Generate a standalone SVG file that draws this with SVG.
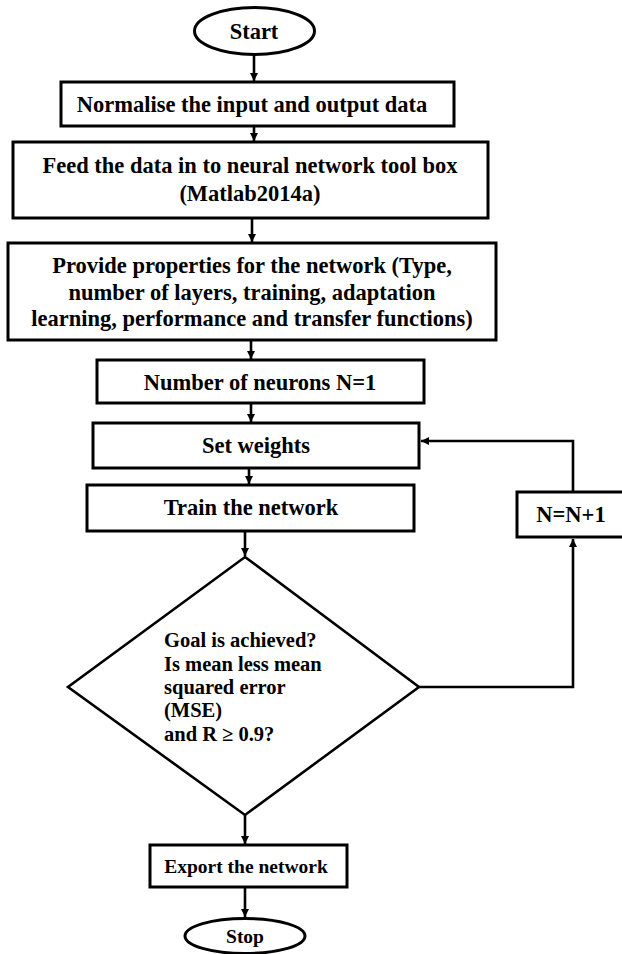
<svg xmlns="http://www.w3.org/2000/svg" width="622" height="954" viewBox="0 0 622 954">
<defs>
<style>
.shape{fill:#fff;stroke:#000;stroke-width:3}
.dia{fill:#fff;stroke:#000;stroke-width:2.6}
.t{font-family:"Liberation Serif","Times New Roman",serif;font-weight:bold;fill:#000;text-anchor:middle}
.big{font-size:22.5px}
.mid{font-size:20.5px}
.sm{font-size:19.5px}
.conn{fill:none;stroke:#000;stroke-width:2.6}
</style>
<marker id="ah" markerWidth="10" markerHeight="10" refX="8" refY="4" orient="auto" markerUnits="userSpaceOnUse">
<path d="M0,0 L8,4 L0,8 Z" fill="#000"/>
</marker>
</defs>
<rect width="622" height="954" fill="#fff"/>
<g id="connectors">
<line class="conn" x1="254" y1="55" x2="254" y2="81" marker-end="url(#ah)"/>
<line class="conn" x1="254" y1="126" x2="254" y2="141" marker-end="url(#ah)"/>
<line class="conn" x1="252" y1="218" x2="252" y2="242" marker-end="url(#ah)"/>
<line class="conn" x1="251" y1="340" x2="251" y2="359" marker-end="url(#ah)"/>
<line class="conn" x1="251" y1="403" x2="251" y2="422" marker-end="url(#ah)"/>
<line class="conn" x1="249" y1="468" x2="249" y2="484" marker-end="url(#ah)"/>
<line class="conn" x1="245" y1="531" x2="245" y2="556" marker-end="url(#ah)"/>
<line class="conn" x1="245" y1="815" x2="245" y2="844" marker-end="url(#ah)"/>
<line class="conn" x1="245" y1="887" x2="245" y2="917" marker-end="url(#ah)"/>
<polyline class="conn" points="419,687 573,687 573,539" marker-end="url(#ah)"/>
<polyline class="conn" points="573,492 573,441 421,441" marker-end="url(#ah)"/>
</g>
<g id="start">
<ellipse class="shape" cx="254.5" cy="31" rx="60" ry="23.5"/>
<text class="t big" x="254" y="38.5">Start</text>
</g>
<g id="normalise">
<rect class="shape" x="61" y="82" width="393" height="44"/>
<text class="t big" x="252" y="111.5">Normalise the input and output data</text>
</g>
<g id="feed">
<rect class="shape" x="13" y="142" width="475" height="76"/>
<text class="t big" x="250" y="172.5">Feed the data in to neural network tool box</text>
<text class="t big" x="250" y="200.5">(Matlab2014a)</text>
</g>
<g id="properties">
<rect class="shape" x="8" y="243" width="488" height="97"/>
<text class="t big" x="252" y="272.5">Provide properties for the network (Type,</text>
<text class="t big" x="252" y="299.5">number of layers, training, adaptation</text>
<text class="t big" x="252" y="326">learning, performance and transfer functions)</text>
</g>
<g id="neurons">
<rect class="shape" x="97" y="360" width="327" height="43"/>
<text class="t big" x="260" y="389.5">Number of neurons N=1</text>
</g>
<g id="weights">
<rect class="shape" x="93" y="423" width="326" height="45"/>
<text class="t big" x="256" y="452.5">Set weights</text>
</g>
<g id="train">
<rect class="shape" x="87" y="485" width="327" height="46"/>
<text class="t big" x="251" y="515">Train the network</text>
</g>
<g id="increment">
<rect class="shape" x="517" y="492" width="108" height="45"/>
<text class="t big" x="571" y="522">N=N+1</text>
</g>
<g id="decision">
<polygon class="dia" points="245,557 419,687 245,815 68,687"/>
<text class="t mid" style="text-anchor:start" x="164" y="647">Goal is achieved?</text>
<text class="t mid" style="text-anchor:start" x="164" y="670.5">Is mean less mean</text>
<text class="t mid" style="text-anchor:start" x="164" y="694">squared error</text>
<text class="t mid" style="text-anchor:start" x="164" y="717">(MSE)</text>
<text class="t mid" style="text-anchor:start" x="164" y="741">and R ≥ 0.9?</text>
</g>
<g id="export">
<rect class="shape" x="150" y="845" width="197" height="42"/>
<text class="t sm" x="246" y="872.5">Export the network</text>
</g>
<g id="stop">
<ellipse class="shape" cx="245" cy="936" rx="60" ry="17.5"/>
<text class="t sm" x="245" y="943">Stop</text>
</g>
</svg>
